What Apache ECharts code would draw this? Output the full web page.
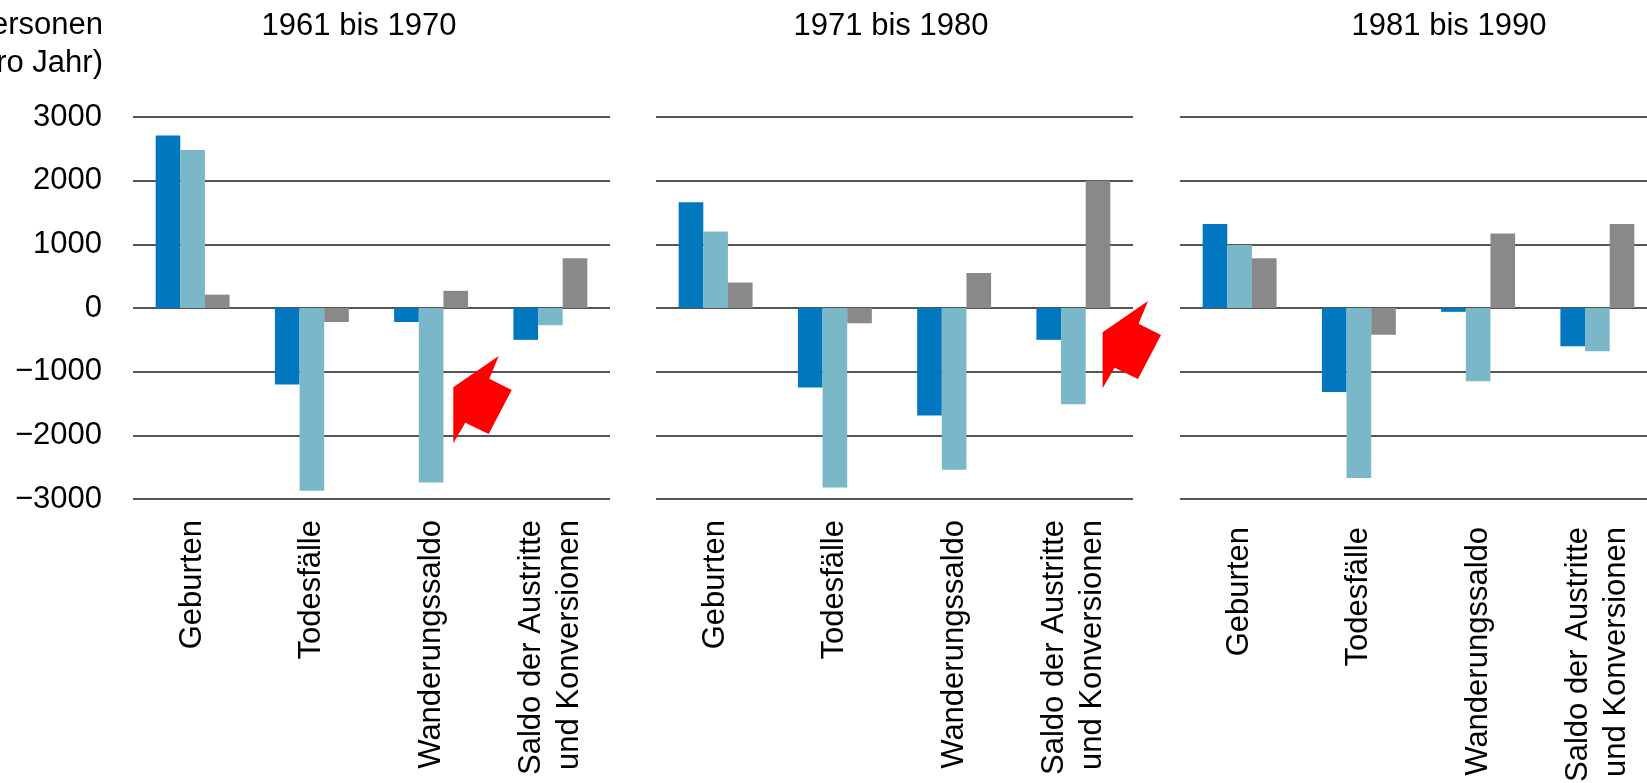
<!DOCTYPE html>
<html>
<head>
<meta charset="utf-8">
<script src="https://cdn.jsdelivr.net/npm/echarts@6/dist/echarts.min.js"></script>
<style>
  html, body { margin: 0; padding: 0; background: #fff; }
  #chart { width: 1647px; height: 783px; }
</style>
</head>
<body>
<div id="chart"></div>
<script>
// ---- data ----
const categories = ['Geburten', 'Todesfälle', 'Wanderungssaldo', 'Saldo der Austritte\nund Konversionen'];
const panelTitles = ['1961 bis 1970', '1971 bis 1980', '1981 bis 1990'];
const yAxisName = '(Personen\npro Jahr)';
const yMin = -3000;
const yMax = 3000;
const yStep = 1000;

const dark1961 = [2710, -1200, -220, -500];
const light1961 = [2480, -2870, -2740, -270];
const gray1961 = [210, -220, 270, 780];

const dark1971 = [1660, -1250, -1690, -500];
const light1971 = [1200, -2820, -2540, -1510];
const gray1971 = [400, -240, 550, 2000];

const dark1981 = [1320, -1320, -60, -600];
const light1981 = [990, -2670, -1150, -680];
const gray1981 = [780, -420, 1170, 1320];

const panelData = [
  [dark1961, light1961, gray1961],
  [dark1971, light1971, gray1971],
  [dark1981, light1981, gray1981]
];

// ---- styling / layout ----
const colors = ['#0077BF', '#7AB8C9', '#898989'];
const FONT = '"Liberation Sans", Arial, sans-serif';
const gridLefts = [133, 656, 1180];
const gridWidth = 477;
const gridTop = 117;
const gridHeight = 382;
const titleCenters = [359, 891, 1449];
const labelMargins = [21, 21, 28];

const chart = echarts.init(document.getElementById('chart'), null, { renderer: 'canvas' });

const grids = [], xAxes = [], yAxes = [], series = [];
panelData.forEach((sets, p) => {
  grids.push({
    left: gridLefts[p], width: gridWidth, top: gridTop, height: gridHeight,
    containLabel: false, outerBoundsMode: 'none'
  });
  xAxes.push({
    type: 'category', gridIndex: p, data: categories,
    axisLine: { show: false, onZero: false },
    axisTick: { show: false },
    axisLabel: {
      interval: 0, rotate: 90, margin: labelMargins[p],
      fontSize: 31, lineHeight: 38, fontFamily: FONT, color: '#000'
    }
  });
  yAxes.push({
    type: 'value', gridIndex: p, min: yMin, max: yMax, interval: yStep,
    axisLine: { show: false }, axisTick: { show: false },
    axisLabel: {
      show: p === 0, margin: 31, fontSize: 31, fontFamily: FONT, color: '#000',
      formatter: v => String(v).replace('-', '\u2212')
    },
    splitLine: { show: true, lineStyle: { color: '#555555', width: 2 } }
  });
  sets.forEach((vals, s) => {
    series.push({
      type: 'bar', xAxisIndex: p, yAxisIndex: p, data: vals,
      barGap: '0%', barCategoryGap: '38%',
      itemStyle: { color: colors[s] },
      silent: true
    });
  });
});

// annotation arrows (relative shape, placed at two spots)
const arrowShape = [[0, 0], [-45.4, 31.3], [-45.4, 87.3], [-33.4, 66.7], [-10, 78], [13, 34], [-9.4, 22.7]];
const arrowSpots = [[498.7, 356], [1148, 301]];

const graphics = [];
panelTitles.forEach((t, i) => {
  graphics.push({
    type: 'text', x: titleCenters[i], y: 26,
    style: { text: t, fontSize: 31, fontFamily: FONT, fill: '#000', align: 'center', verticalAlign: 'middle' }
  });
});
graphics.push({
  type: 'text', x: 103, y: 44,
  style: { text: yAxisName, fontSize: 31, lineHeight: 38, fontFamily: FONT, fill: '#000', align: 'right', verticalAlign: 'middle' }
});
arrowSpots.forEach(([x, y]) => {
  graphics.push({
    type: 'polygon', x: x, y: y, z: 100,
    shape: { points: arrowShape },
    style: { fill: '#FF0000' }
  });
});

chart.setOption({
  animation: false,
  backgroundColor: '#fff',
  grid: grids,
  xAxis: xAxes,
  yAxis: yAxes,
  series: series,
  graphic: graphics
});
</script>
</body>
</html>
